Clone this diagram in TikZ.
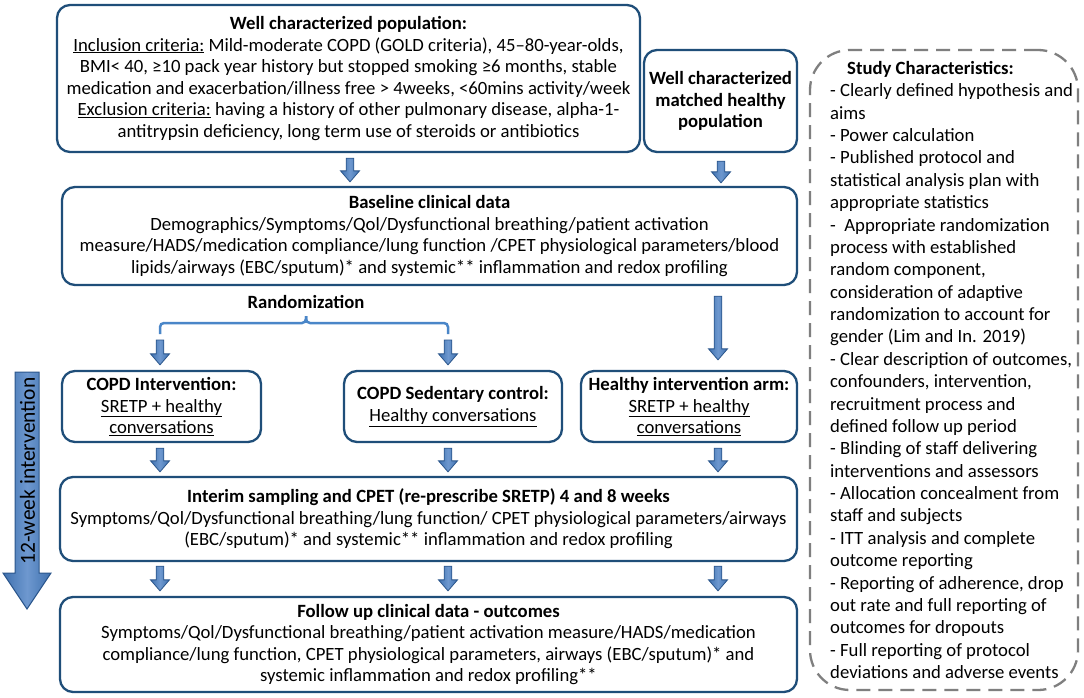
\documentclass[tikz,border=0pt]{standalone}
\usepackage{fontspec}
\setmainfont{Carlito}
\usetikzlibrary{calc}
\definecolor{boxc}{HTML}{1F4E79}
\definecolor{arrf}{HTML}{3F71AF}
\definecolor{arre}{HTML}{2B568C}
\definecolor{arrl}{HTML}{6E98CF}
\definecolor{brc}{HTML}{4A86C8}
\definecolor{dgray}{HTML}{7F7F7F}
\newcommand{\mainf}{\fontsize{18.7}{21.6}\selectfont}
\newcommand{\studf}{\fontsize{18.7}{22.37}\selectfont}
\newcommand{\bigf}{\fontsize{21.5}{24}\selectfont}
\newcommand{\blkarrow}[2]{%
  \draw[blk] let \p1=(#1), \p2=(#2) in
    (\x1-3.8pt,\y1) -- (\x1-3.8pt,\y2+11pt) -- (\x1-9.5pt,\y2+11pt) -- (\x1,\y2)
    -- (\x1+9.5pt,\y2+11pt) -- (\x1+3.8pt,\y2+11pt) -- (\x1+3.8pt,\y1) -- cycle;}
\begin{document}
\begin{tikzpicture}[x=1pt,y=-1pt,
  box/.style={draw=boxc, line width=2.3pt, rounded corners=13pt, fill=white,
    align=center, inner sep=0pt, font=\mainf},
  blk/.style={draw=arre, line width=0.8pt, left color=arrf, right color=arrf, middle color=arrl},
  bigarr/.style={draw=arre, line width=1pt, left color=arrf, right color=arrf, middle color=arrl},
  brace/.style={draw=brc, line width=2.5pt, rounded corners=4pt},
  studbox/.style={draw=dgray, line width=2.3pt, dash pattern=on 14pt off 8pt, rounded corners=40pt}]
\useasboundingbox (0,0) rectangle (1084,698);
\fill[white] (0,0) rectangle (1084,698);

% boxes
\node[box, minimum width=583pt, minimum height=147pt] (pop) at (348.5,78.5)
  {\textbf{Well characterized population:}\\
   \underline{Inclusion criteria:} Mild-moderate COPD (GOLD criteria), 45–80-year-olds,\\
   BMI< 40, ≥10 pack year history but stopped smoking ≥6 months, stable\\
   medication and exacerbation/illness free > 4weeks, <60mins activity/week\\
   \underline{Exclusion criteria:} having a history of other pulmonary disease, alpha-1-\\
   antitrypsin deficiency, long term use of steroids or antibiotics};
\node[box, minimum width=153pt, minimum height=102pt] (hpop) at (720.5,101)
  {\textbf{Well characterized}\\ \textbf{matched healthy}\\ \textbf{population}};
\node[box, minimum width=735pt, minimum height=98pt] (base) at (429.5,236)
  {\textbf{Baseline clinical data}\\
   Demographics/Symptoms/Qol/Dysfunctional breathing/patient activation\\
   measure/HADS/medication compliance/lung function /CPET physiological parameters/blood\\
   lipids/airways (EBC/sputum)* and systemic** inflammation and redox profiling};
\node[font=\mainf\bfseries] (rand) at (306,302) {Randomization};
\node[box, minimum width=199pt, minimum height=71pt] (ci) at (161.5,406.5)
  {\textbf{COPD Intervention:}\\ \underline{SRETP + healthy}\\ \underline{conversations}};
\node[box, minimum width=218pt, minimum height=71pt] (sc) at (453,406.5)
  {\textbf{COPD Sedentary control:}\\ \underline{Healthy conversations}};
\node[box, minimum width=216pt, minimum height=71pt] (ha) at (689,406.5)
  {\textbf{Healthy intervention arm:}\\ \underline{SRETP + healthy}\\ \underline{conversations}};
\node[box, minimum width=737pt, minimum height=84pt] (interim) at (428.5,519)
  {\textbf{Interim sampling and CPET (re-prescribe SRETP) 4 and 8 weeks}\\
   Symptoms/Qol/Dysfunctional breathing/lung function/ CPET physiological parameters/airways\\
   (EBC/sputum)* and systemic** inflammation and redox profiling};
\node[box, minimum width=737pt, minimum height=95pt] (follow) at (428.5,644.5)
  {\textbf{Follow up clinical data - outcomes}\\
   Symptoms/Qol/Dysfunctional breathing/patient activation measure/HADS/medication\\
   compliance/lung function, CPET physiological parameters, airways (EBC/sputum)* and\\
   systemic inflammation and redox profiling**};

% study characteristics
\node[studbox, minimum width=268pt, minimum height=640pt] (stud) at (944,370) {};
\node[anchor=west, align=left, inner sep=0pt, font=\studf] (stxt) at (830,370)
  {\hspace*{17pt}\textbf{Study Characteristics:}\\
   - Clearly defined hypothesis and\\
   aims\\
   - Power calculation\\
   - Published protocol and\\
   statistical analysis plan with\\
   appropriate statistics\\
   -\ \ Appropriate randomization\\
   process with established\\
   random component,\\
   consideration of adaptive\\
   randomization to account for\\
   gender (Lim and In. 2019)\\
   - Clear description of outcomes,\\
   confounders, intervention,\\
   recruitment process and\\
   defined follow up period\\
   - Blinding of staff delivering\\
   interventions and assessors\\
   - Allocation concealment from\\
   staff and subjects\\
   - ITT analysis and complete\\
   outcome reporting\\
   - Reporting of adherence, drop\\
   out rate and full reporting of\\
   outcomes for dropouts\\
   - Full reporting of protocol\\
   deviations and adverse events};

% 12-week arrow
\draw[bigarr] (15,372) -- (15,573) -- (3,573) -- (27,609) -- (51,573) -- (39,573) -- (39,372) -- cycle;
\node[rotate=90, font=\bigf, inner sep=0pt] (wk) at (27.5,471) {12-week intervention};

% x positions of arrows
\coordinate (xa) at (160,0);
\coordinate (xb) at (448,0);
\coordinate (xc) at (718,0);
\coordinate (xd) at (350,0);
\coordinate (xe) at (721,0);

% brace
\coordinate (brl) at (160,334);
\coordinate (brr) at (448,334);
\coordinate (brm) at (306,316);
\draw[brace] (brl) -- (160,323) -- (306,323) -- (brm);
\draw[brace] (brr) -- (448,323) -- (306,323) -- (brm);

% arrows
\blkarrow{$(pop.south -| xd)+(0,5)$}{$(base.north -| xd)+(0,-4)$}
\blkarrow{$(hpop.south -| xe)+(0,8)$}{$(base.north -| xe)+(0,-3)$}
\blkarrow{$(base.south -| xc)+(0,10)$}{$(ha.north -| xc)+(0,-10)$}
\blkarrow{$(brl)+(0,6)$}{$(ci.north -| brl)+(0,-5)$}
\blkarrow{$(brr)+(0,6)$}{$(sc.north -| brr)+(0,-5)$}
\blkarrow{$(ci.south -| xa)+(0,5)$}{$(interim.north -| xa)+(0,-4)$}
\blkarrow{$(sc.south -| xb)+(0,5)$}{$(interim.north -| xb)+(0,-4)$}
\blkarrow{$(ha.south -| xc)+(0,5)$}{$(interim.north -| xc)+(0,-4)$}
\blkarrow{$(interim.south -| xa)+(0,4)$}{$(follow.north -| xa)+(0,-5)$}
\blkarrow{$(interim.south -| xb)+(0,4)$}{$(follow.north -| xb)+(0,-5)$}
\blkarrow{$(interim.south -| xc)+(0,4)$}{$(follow.north -| xc)+(0,-5)$}
\end{tikzpicture}
\end{document}
